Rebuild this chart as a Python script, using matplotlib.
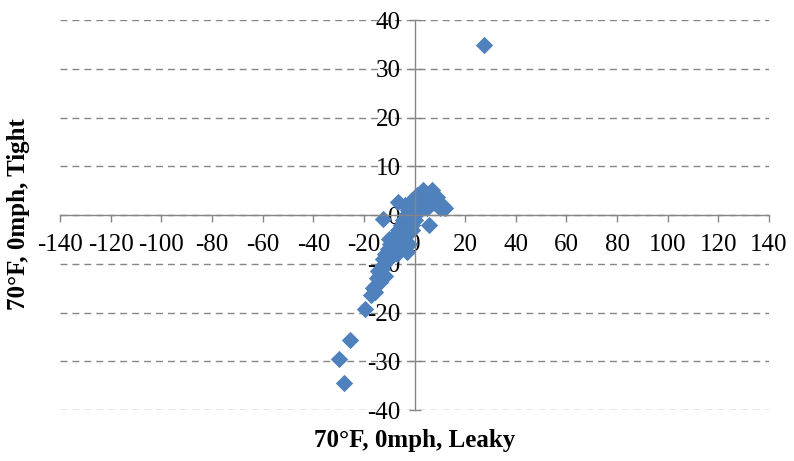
import matplotlib
matplotlib.use("Agg")
import matplotlib.pyplot as plt

plt.rcParams['font.family'] = ['Liberation Serif', 'DejaVu Serif']
plt.rcParams['axes.unicode_minus'] = False

# Temperature deltas, 70°F / 0 mph: leaky vs tight envelope
leaky = [27.5, -30.0, -25.4, -27.9, -19.7,
         -17.0, -16.5, -15.5, -15.0, -14.0, -14.5, -13.0, -13.0, -12.0, -12.5,
         -11.0, -11.5, -10.0, -10.5, -9.0, -9.5, -8.0, -8.5, -7.0, -7.5,
         -6.0, -6.5, -5.0, -5.5, -4.0, -4.5, -3.0, -3.5, -2.0, -2.5,
         -1.0, -1.0, 0.0, 0.0, 1.0, 1.0, 2.0, 2.0, 3.0, 3.0,
         4.0, 4.0, 5.0, 5.0, 6.0, 6.0, 7.0, 7.0, 8.0, 9.0,
         10.0, 11.0, 12.2, 5.9, -6.6, -12.6, 3.2, 6.7, 8.7, 0.8,
         -1.2, -3.9, -3.0, -2.0, -4.0, -1.0, -9.0, -10.0, -7.0, -5.0,
         -15.5, -13.5, -11.5]
tight = [34.8, -29.6, -25.6, -34.4, -19.3,
         -16.5, -15.0, -14.5, -13.0, -12.5, -11.5, -11.0, -12.0, -10.0, -9.0,
         -9.5, -8.0, -8.5, -7.0, -7.5, -6.0, -6.5, -5.0, -5.5, -4.0,
         -4.5, -3.0, -3.5, -2.0, -2.5, -1.0, -1.5, 0.0, -0.5, 1.0,
         0.0, -2.0, -1.0, 1.0, 0.5, 2.0, 1.0, 2.5, 1.5, 3.5,
         2.5, 4.5, 3.0, 1.5, 4.0, 2.0, 3.0, 4.5, 2.5, 2.0,
         1.5, 2.0, 1.4, -2.0, 2.7, -0.8, 5.1, 5.1, 3.7, 4.1,
         3.1, 2.0, -7.5, -6.0, -5.0, -3.0, -6.5, -5.0, -8.0, -6.5,
         -15.8, -13.8, -12.5]

x_ticks = list(range(-140, 141, 20))
y_ticks = list(range(-40, 41, 10))

fig = plt.figure(figsize=(7.94, 4.61), dpi=100)
ax = fig.add_axes([0.0756, 0.1106, 0.893, 0.846])

ax.scatter(leaky, tight, marker='D', s=78, color='#4F81BD', linewidths=0)

ax.set_xlim(-140, 140)
ax.set_ylim(-40, 40)
ax.set_xticks(x_ticks)
ax.set_yticks(y_ticks)

# axes cross at the origin
for side in ('top', 'right'):
    ax.spines[side].set_visible(False)
ax.spines['left'].set_position(('data', 0))
ax.spines['bottom'].set_position(('data', 0))
for side in ('left', 'bottom'):
    ax.spines[side].set_color('#868686')
    ax.spines[side].set_linewidth(1.0)

ax.yaxis.grid(True, color='#868686', linestyle=(0, (5, 3.6)), linewidth=1.0)
ax.set_axisbelow(True)

ax.tick_params(axis='x', direction='out', length=5, width=1, color='#868686',
               labelsize=18, pad=9)
ax.tick_params(axis='y', direction='inout', length=8, width=1, color='#868686',
               labelsize=18, pad=6)

fig.text(0.522, 0.045, '70°F, 0mph, Leaky', ha='center', va='center',
         fontsize=18, fontweight='bold')
fig.text(0.023, 0.535, '70°F, 0mph, Tight', ha='center', va='center',
         rotation=90, fontsize=18, fontweight='bold')

fig.savefig('out.png', dpi=100)
